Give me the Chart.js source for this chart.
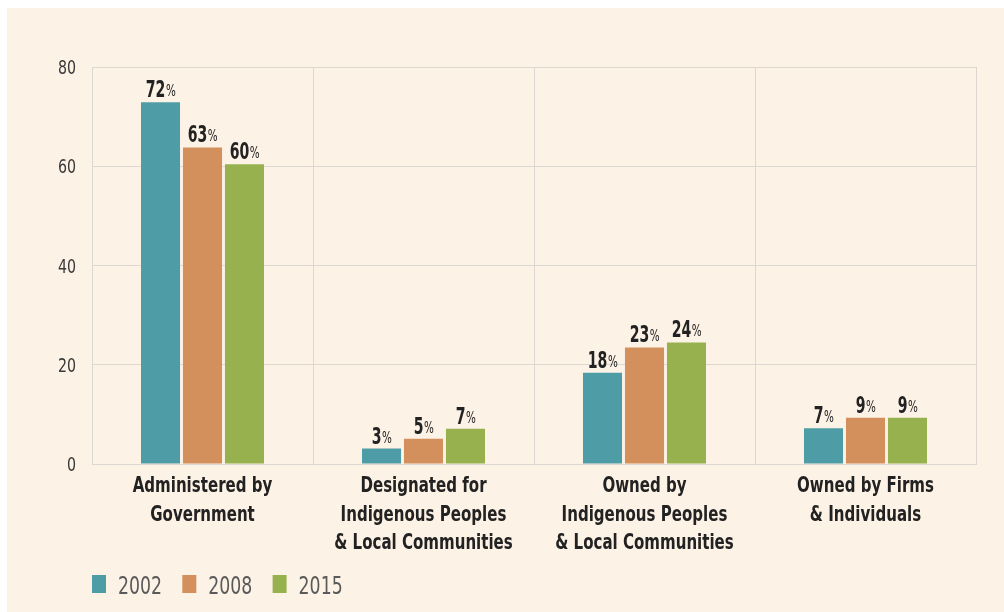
<!DOCTYPE html>
<html>
<head>
<meta charset="utf-8">
<script src="https://cdn.jsdelivr.net/npm/chart.js@4/dist/chart.umd.min.js"></script>
<style>
  html, body { margin: 0; padding: 0; background: #ffffff; }
  #wrap { width: 1004px; height: 612px; }
</style>
</head>
<body>
<div id="wrap"><canvas id="tenureChart" width="1004" height="612"></canvas></div>
<script>
// Kategorier og verdier lest av bildet
const categories = [
  ["Administered by", "Government"],
  ["Designated for", "Indigenous Peoples", "& Local Communities"],
  ["Owned by", "Indigenous Peoples", "& Local Communities"],
  ["Owned by Firms", "& Individuals"]
];
const years = ["2002", "2008", "2015"];
const share2002 = [72.9, 3.1, 18.4, 7.2];
const share2008 = [63.8, 5.1, 23.5, 9.3];
const share2015 = [60.4, 7.1, 24.5, 9.3];
const label2002 = ["72", "3", "18", "7"];
const label2008 = ["63", "5", "23", "9"];
const label2015 = ["60", "7", "24", "9"];
const yTicks = [0, 20, 40, 60, 80];

const FONT = "'DejaVu Sans Condensed', 'DejaVu Sans', sans-serif";
const GRID = "#dcd8d1";

// Tekst smalere enn fonten (etterligner en kondensert skrift)
function narrowText(ctx, text, x, y, sx, align) {
  ctx.save();
  ctx.translate(x, y);
  ctx.scale(sx, 1);
  ctx.textAlign = align || "left";
  ctx.fillText(text, 0, 0);
  ctx.restore();
}

// Bakgrunn (beige felt med hvit kant oppe og til venstre)
const backgroundPlugin = {
  id: "bg",
  beforeDraw(chart) {
    const ctx = chart.ctx;
    ctx.save();
    ctx.fillStyle = "#ffffff";
    ctx.fillRect(0, 0, chart.width, chart.height);
    ctx.fillStyle = "#fdf2e6";
    ctx.fillRect(7, 8, chart.width - 7, chart.height - 8);
    ctx.restore();
  }
};

// Akse-etiketter tegnet fra skalaene
const axisLabelPlugin = {
  id: "axisLabels",
  afterDraw(chart) {
    const ctx = chart.ctx;
    const xs = chart.scales.x, ys = chart.scales.y;
    ctx.save();
    ctx.textBaseline = "alphabetic";
    // y-akse
    ctx.fillStyle = "#3a3a3a";
    ctx.font = "19px " + FONT;
    ys.ticks.forEach(t => {
      narrowText(ctx, String(t.value), xs.left - 16, ys.getPixelForValue(t.value) + 7, 0.83, "right");
    });
    // x-akse
    ctx.fillStyle = "#222222";
    ctx.font = "bold 22px " + FONT;
    chart.data.labels.forEach((lines, i) => {
      const cx = xs.getPixelForValue(i);
      lines.forEach((line, k) => {
        narrowText(ctx, line, cx, ys.bottom + 28 + k * 28.5, 0.76, "center");
      });
    });
    ctx.restore();
  }
};

// Prosent-etiketter over stolpene, med mindre %-tegn
const valueLabelPlugin = {
  id: "valueLabels",
  afterDatasetsDraw(chart) {
    const ctx = chart.ctx;
    const sx = 0.68;
    ctx.save();
    ctx.fillStyle = "#222222";
    ctx.textBaseline = "alphabetic";
    chart.data.datasets.forEach((ds, i) => {
      const meta = chart.getDatasetMeta(i);
      meta.data.forEach((bar, j) => {
        const num = ds.valueLabels[j];
        ctx.font = "bold 23px " + FONT;
        const wNum = ctx.measureText(num).width * sx;
        ctx.font = "16px " + FONT;
        const wPct = ctx.measureText("%").width * 0.72;
        const x0 = bar.x - (wNum + wPct) / 2;
        const yb = bar.y - 5;
        ctx.font = "bold 23px " + FONT;
        narrowText(ctx, num, x0, yb, sx, "left");
        ctx.font = "16px " + FONT;
        narrowText(ctx, "%", x0 + wNum + 0.5, yb - 1, 0.72, "left");
      });
    });
    ctx.restore();
  }
};

// Egen legende nederst til venstre
const legendPlugin = {
  id: "bottomLegend",
  afterDraw(chart) {
    const ctx = chart.ctx;
    ctx.save();
    let x = chart.scales.x.left;
    chart.data.datasets.forEach(ds => {
      ctx.fillStyle = ds.backgroundColor;
      ctx.fillRect(x, 575, 14, 18);
      ctx.fillStyle = "#5a5a5a";
      ctx.font = "25px " + FONT;
      ctx.textBaseline = "alphabetic";
      narrowText(ctx, ds.label, x + 26, 594, 0.77, "left");
      x += 90.3;
    });
    ctx.restore();
  }
};

const ctx = document.getElementById("tenureChart");
new Chart(ctx, {
  type: "bar",
  data: {
    labels: categories,
    datasets: [
      { label: years[0], data: share2002, valueLabels: label2002, backgroundColor: "#4e9ca6" },
      { label: years[1], data: share2008, valueLabels: label2008, backgroundColor: "#d3905c" },
      { label: years[2], data: share2015, valueLabels: label2015, backgroundColor: "#98b14f" }
    ]
  },
  options: {
    responsive: false,
    animation: false,
    devicePixelRatio: 1,
    layout: { padding: { left: 0, right: 28, top: 67, bottom: 0 } },
    datasets: {
      bar: { categoryPercentage: 0.57, barPercentage: 0.93 }
    },
    plugins: {
      legend: { display: false },
      tooltip: { enabled: false }
    },
    scales: {
      x: {
        grid: { color: GRID, drawTicks: false, offset: true },
        border: { color: GRID },
        ticks: { display: false },
        afterFit(scale) { scale.height = 148; }
      },
      y: {
        min: 0,
        max: 80,
        afterBuildTicks(scale) { scale.ticks = yTicks.map(v => ({ value: v })); },
        grid: { color: GRID, drawTicks: false },
        border: { color: GRID },
        ticks: { display: false },
        afterFit(scale) { scale.width = 92; }
      }
    }
  },
  plugins: [backgroundPlugin, axisLabelPlugin, valueLabelPlugin, legendPlugin]
});
</script>
</body>
</html>
